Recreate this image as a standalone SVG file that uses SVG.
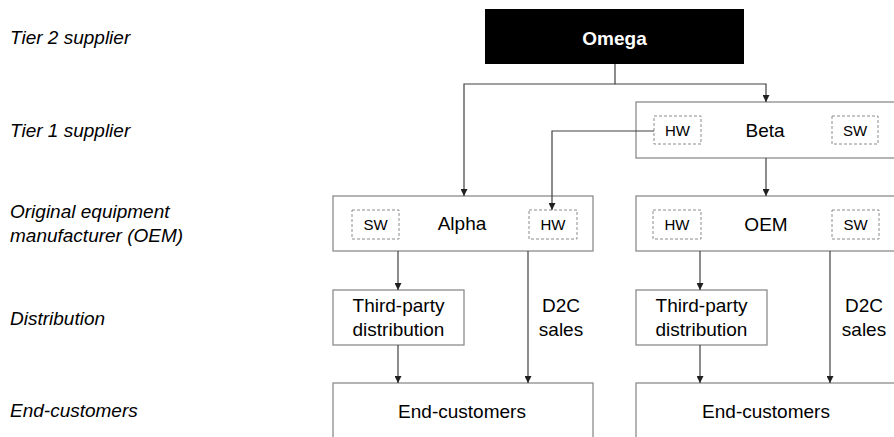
<svg xmlns="http://www.w3.org/2000/svg" width="894" height="437" viewBox="0 0 894 437">
  <style>
    text { font-family: "Liberation Sans", Arial, sans-serif; fill: #000; }
    .tier { font-size: 19px; font-style: italic; }
    .name { font-size: 19px; text-anchor: middle; }
    .tag { font-size: 15px; text-anchor: middle; }
    .box { fill: #fff; stroke: #8c8c8c; stroke-width: 1.3; }
    .part { fill: none; stroke: #8c8c8c; stroke-width: 1; stroke-dasharray: 3 2; }
    .link { fill: none; stroke: #404040; stroke-width: 1.2; marker-end: url(#head); }
  </style>
  <defs>
    <marker id="head" viewBox="0 0 8 8" refX="8" refY="4" markerWidth="7" markerHeight="7" markerUnits="userSpaceOnUse" orient="auto">
      <path d="M0,0 L8,4 L0,8 Z" fill="#202020"/>
    </marker>
  </defs>

  <rect width="894" height="437" fill="#fff"/>

  <!-- tier labels -->
  <g id="tiers">
    <text class="tier" x="10" y="44">Tier 2 supplier</text>
    <text class="tier" x="10" y="137">Tier 1 supplier</text>
    <text class="tier" x="10" y="218">Original equipment</text>
    <text class="tier" x="10" y="242">manufacturer (OEM)</text>
    <text class="tier" x="10" y="325">Distribution</text>
    <text class="tier" x="10" y="417">End-customers</text>
  </g>

  <g id="omega">
    <rect x="485" y="9" width="259" height="55" fill="#000"/>
    <text x="614.5" y="45" font-size="19" font-weight="bold" text-anchor="middle" style="fill:#fff">Omega</text>
  </g>

  <g id="beta">
    <rect class="box" x="636" y="102" width="262" height="56"/>
    <rect class="part" x="654" y="116" width="47" height="28"/>
    <text class="tag" x="677.5" y="136">HW</text>
    <text class="name" x="765" y="137">Beta</text>
    <rect class="part" x="832" y="116" width="46" height="28"/>
    <text class="tag" x="855" y="136">SW</text>
  </g>

  <g id="alpha">
    <rect class="box" x="333" y="196" width="260" height="55"/>
    <rect class="part" x="352" y="210" width="47" height="29"/>
    <text class="tag" x="375.5" y="230">SW</text>
    <text class="name" x="462" y="230">Alpha</text>
    <rect class="part" x="529" y="210" width="48" height="29"/>
    <text class="tag" x="553" y="230">HW</text>
  </g>

  <g id="oem">
    <rect class="box" x="636" y="196" width="262" height="55"/>
    <rect class="part" x="653" y="210" width="48" height="29"/>
    <text class="tag" x="677" y="230">HW</text>
    <text class="name" x="766" y="231">OEM</text>
    <rect class="part" x="832" y="210" width="47" height="29"/>
    <text class="tag" x="855.5" y="230">SW</text>
  </g>

  <g id="distribution-alpha">
    <rect class="box" x="333" y="290" width="131" height="55"/>
    <text class="name" x="398.5" y="312">Third-party</text>
    <text class="name" x="398.5" y="336">distribution</text>
  </g>

  <g id="d2c-alpha">
    <text class="name" x="561" y="312">D2C</text>
    <text class="name" x="561" y="336">sales</text>
  </g>

  <g id="distribution-oem">
    <rect class="box" x="636" y="290" width="131" height="55"/>
    <text class="name" x="701.5" y="312">Third-party</text>
    <text class="name" x="701.5" y="336">distribution</text>
  </g>

  <g id="d2c-oem">
    <text class="name" x="864" y="312">D2C</text>
    <text class="name" x="864" y="336">sales</text>
  </g>

  <g id="customers-alpha">
    <rect class="box" x="333" y="383" width="260" height="60"/>
    <text class="name" x="462" y="418">End-customers</text>
  </g>

  <g id="customers-oem">
    <rect class="box" x="636" y="383" width="262" height="60"/>
    <text class="name" x="766" y="418">End-customers</text>
  </g>

  <!-- connectors, drawn over the boxes so the HW link reaches its target -->
  <g id="connectors">
    <path class="link" d="M615,64 V84 H464 V196"/>
    <path class="link" d="M615,84 H766 V102"/>
    <path class="link" d="M654,131 H552 V210"/>
    <path class="link" d="M766,158 V196"/>
    <path class="link" d="M398,251 V290"/>
    <path class="link" d="M398,345 V383"/>
    <path class="link" d="M528,251 V383"/>
    <path class="link" d="M700,251 V290"/>
    <path class="link" d="M700,345 V383"/>
    <path class="link" d="M830,251 V383"/>
  </g>
</svg>
